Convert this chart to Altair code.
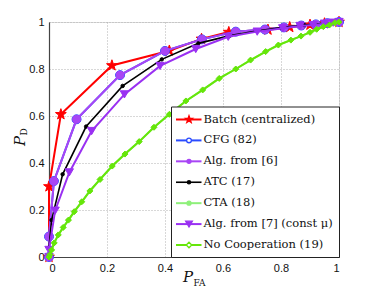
import altair as alt
import pandas as pd

# ---- data ----
batch_x = [0, 0, 0.041, 0.217, 0.415, 0.526, 0.62, 0.755, 0.83, 0.9, 0.95, 1]
batch_y = [0, 0.30, 0.607, 0.815, 0.878, 0.928, 0.957, 0.967, 0.978, 0.988, 0.994, 1]

alg6_x = [0, 0.0, 0.017, 0.095, 0.245, 0.40, 0.527, 0.644, 0.745, 0.81, 0.87, 0.92, 0.96, 1]
alg6_y = [0, 0.087, 0.323, 0.586, 0.774, 0.877, 0.926, 0.959, 0.968, 0.977, 0.985, 0.99, 0.995, 1]
cfg_x = list(alg6_x)
cfg_y = list(alg6_y)

atc_x = [0, 0.0, 0.009, 0.047, 0.128, 0.254, 0.389, 0.515, 0.624, 0.716, 0.8, 0.88, 0.95, 1]
atc_y = [0, 0.04, 0.157, 0.352, 0.555, 0.728, 0.841, 0.909, 0.942, 0.962, 0.976, 0.987, 0.995, 1]

alg7_x = [0, 0, 0.021, 0.07, 0.147, 0.26, 0.383, 0.506, 0.618, 0.718, 0.806, 0.866, 0.911, 0.95, 0.98, 1]
alg7_y = [0, 0.03, 0.197, 0.36, 0.536, 0.692, 0.813, 0.885, 0.937, 0.959, 0.973, 0.983, 0.987, 0.993, 0.997, 1]

nocoop_x = [0, 0.003, 0.009, 0.018, 0.032, 0.049, 0.067, 0.087, 0.113, 0.141, 0.176, 0.218,
            0.262, 0.311, 0.362, 0.415, 0.472, 0.53, 0.587, 0.644, 0.695, 0.747, 0.791,
            0.834, 0.869, 0.9, 0.923, 0.946, 0.967, 0.986, 1]
nocoop_y = [0, 0.01, 0.03, 0.06, 0.094, 0.126, 0.157, 0.193, 0.235, 0.281, 0.33, 0.387,
            0.438, 0.491, 0.552, 0.607, 0.664, 0.711, 0.76, 0.80, 0.838, 0.874, 0.902,
            0.923, 0.94, 0.956, 0.969, 0.98, 0.987, 0.997, 1]
cta_x = list(nocoop_x)
cta_y = list(nocoop_y)

names = ["Batch (centralized)", "CFG (82)", "Alg. from [6]", "ATC (17)",
         "CTA (18)", "Alg. from [7] (const \u03bc)", "No Cooperation (19)"]
tick_vals = [0, 0.2, 0.4, 0.6, 0.8, 1]

SERIF = "DejaVu Serif"

STAR = ("M0,-1L0.235,-0.324L0.951,-0.309L0.380,0.124L0.588,0.809L0,0.4"
        "L-0.588,0.809L-0.380,0.124L-0.951,-0.309L-0.235,-0.324Z")

# style per series: color, shape, size, filled, line width, legend size, legend filled
styles = [
    ("#ff0000", STAR, 130, True, 2, 55, True),
    ("#2a4bff", "circle", 80, True, 2, 22, False),
    ("#a845f5", "circle", 64, True, 2, 16, True),
    ("#000000", "circle", 12, True, 1.6, 10, True),
    ("#8ef07a", "circle", 14, True, 2, 16, True),
    ("#9a30f2", "triangle-down", 70, True, 2, 45, True),
    ("#66e60a", "diamond", 36, True, 2, 30, False),
]
series = [(batch_x, batch_y), (cfg_x, cfg_y), (alg6_x, alg6_y), (atc_x, atc_y),
          (cta_x, cta_y), (alg7_x, alg7_y), (nocoop_x, nocoop_y)]

xscale = alt.Scale(domain=[0, 1], nice=False)
yscale = alt.Scale(domain=[0, 1], nice=False)

axis_x = alt.Axis(values=tick_vals, format=".1~f", title=None, grid=True,
                  gridDash=[1, 2], gridColor="#b0b0b0", ticks=False,
                  labelFont="Liberation Sans", labelFontSize=11, labelColor="#111",
                  labelPadding=5, domainColor="#444", domainWidth=1.2)
axis_y = alt.Axis(values=tick_vals, format=".1~f", title=None, grid=True,
                  gridDash=[1, 2], gridColor="#b0b0b0", ticks=False,
                  labelFont="Liberation Sans", labelFontSize=11, labelColor="#111",
                  labelPadding=5, domainColor="#444", domainWidth=1.2)

layers = []
for i, ((xs, ys), st) in enumerate(zip(series, styles)):
    color, shape, size, filled, lw, _, _ = st
    df = pd.DataFrame({"pfa": xs, "pd": ys, "idx": list(range(len(xs)))})
    ax_y = axis_y if i == 0 else None
    base = alt.Chart(df)
    line = base.mark_line(color=color, strokeWidth=lw).encode(
        x=alt.X("pfa:Q", scale=xscale, axis=axis_x),
        y=alt.Y("pd:Q", scale=yscale, axis=ax_y),
        order=alt.Order("idx:Q"),
    )
    pts = base.mark_point(shape=shape, size=size, filled=True, color=color,
                          stroke=color, strokeWidth=1, opacity=1).encode(
        x=alt.X("pfa:Q", scale=xscale, axis=axis_x),
        y=alt.Y("pd:Q", scale=yscale, axis=None),
    )
    layers += [line, pts]

# ---- legend ----
one = pd.DataFrame({"a": [0]})
frame = alt.Chart(one).mark_rect(fill="white", stroke="#222", strokeWidth=1).encode(
    x=alt.value(122.5), x2=alt.value(290.5), y=alt.value(85), y2=alt.value(235.5))
layers.append(frame)

rowscale = alt.Scale(domain=[0, 6], range=[97.5, 223])
for i, (nm, st) in enumerate(zip(names, styles)):
    color, shape, size, filled, lw, lsize, lfilled = st
    d = pd.DataFrame({"row": [i], "name": [nm]})
    b = alt.Chart(d)
    layers.append(b.mark_rule(color=color, strokeWidth=lw).encode(
        x=alt.value(127), x2=alt.value(152.5),
        y=alt.Y("row:Q", scale=rowscale, axis=None)))
    layers.append(b.mark_point(shape=shape, size=lsize, filled=lfilled,
                               fill=color if lfilled else "white",
                               stroke=color, strokeWidth=1.3, opacity=1).encode(
        x=alt.value(140), y=alt.Y("row:Q", scale=rowscale, axis=None)))
    layers.append(b.mark_text(align="left", baseline="middle", font=SERIF,
                              fontSize=11.5, color="#111").encode(
        x=alt.value(154.5), y=alt.Y("row:Q", scale=rowscale, axis=None),
        text="name:N"))

# ---- axis titles (P with subscripts) ----
def txt(s, x, y, size, italic=False, angle=0):
    return alt.Chart(one).mark_text(font=SERIF, fontSize=size,
                                    fontStyle="italic" if italic else "normal",
                                    angle=angle, align="center", baseline="middle",
                                    color="#111").encode(
        x=alt.value(x), y=alt.value(y), text=alt.value(s))

layers += [
    txt("P", 139, 254.5, 15, italic=True),
    txt("FA", 150.5, 260.5, 9),
    txt("P", -29, 119, 15, italic=True, angle=270),
    txt("D", -25, 110, 9, angle=270),
]

chart = alt.layer(*layers).resolve_scale(y="independent").properties(
    width=290, height=235,
    autosize=alt.AutoSizeParams(type="none"),
    padding={"left": 41, "top": 14, "right": 10, "bottom": 31},
).configure_view(stroke="#444", strokeWidth=1.2).configure(background="white")

chart.save("out.html", embed_options={"renderer": "svg", "actions": False})
